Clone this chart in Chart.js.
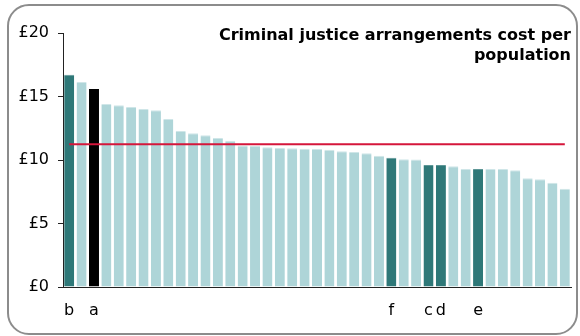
<!DOCTYPE html>
<html>
<head>
<meta charset="utf-8">
<script src="https://cdn.jsdelivr.net/npm/chart.js@4"></script>
<style>
  html, body { margin: 0; padding: 0; background: #fff; }
  #wrap { position: relative; width: 580px; height: 336px; }
  #frame { position: absolute; left: 7px; top: 4px; width: 567px; height: 327px;
           border: 2px solid #8c8c8c; border-radius: 22px; pointer-events: none; }
  canvas { position: absolute; left: 0; top: 0; }
</style>
</head>
<body>
<div id="wrap">
  <canvas id="c" width="580" height="336"></canvas>
  <div id="frame"></div>
</div>
<script>
// Categories (labels only shown for highlighted authorities)
const categories = ['b','','a','','','','','','','','','','','','','','','','','','',
                    '','','','','','f','','','c','d','','','e','','','','','','',''];
// Cost per population (£)
const costValues = [16.72,16.14,15.59,14.41,14.31,14.17,14.02,13.91,13.23,12.28,
                    12.10,11.94,11.73,11.52,11.15,11.10,11.00,10.94,10.92,10.89,
                    10.87,10.81,10.68,10.63,10.53,10.34,10.18,10.05,10.03,9.61,
                    9.61,9.50,9.29,9.29,9.29,9.29,9.19,8.56,8.48,8.21,7.74];
// Average line value
const averageValue = 11.24;
// Highlight group per bar: 'dark' = highlighted, 'black' = subject, 'light' = others
const barGroup = ['dark','light','black','light','light','light','light','light','light','light',
                  'light','light','light','light','light','light','light','light','light','light',
                  'light','light','light','light','light','light','dark','light','light','dark',
                  'dark','light','light','dark','light','light','light','light','light','light','light'];
const yTicks = [0, 5, 10, 15, 20];
const titleLines = ['Criminal justice arrangements cost per', 'population'];

const fillFor = {light: '#aed5d8', dark: '#2e7878', black: '#000000'};
const edgeFor = {light: '#cfe6e8', dark: '#5e9797', black: '#000000'};
const FAM = '"DejaVu Sans", sans-serif';

new Chart(document.getElementById('c'), {
  data: {
    labels: categories,
    datasets: [
      {
        type: 'line',
        data: categories.map(() => averageValue),
        borderColor: '#d5163b',
        borderWidth: 2,
        pointRadius: 0,
        fill: false,
        order: 0
      },
      {
        type: 'bar',
        data: costValues,
        backgroundColor: barGroup.map(g => fillFor[g]),
        borderColor: barGroup.map(g => edgeFor[g]),
        borderWidth: {top: 1, left: 0, right: 0, bottom: 0},
        borderSkipped: false,
        barPercentage: 0.81,
        categoryPercentage: 1,
        order: 1
      }
    ]
  },
  options: {
    responsive: false,
    animation: false,
    devicePixelRatio: 1,
    layout: { padding: { left: 0, right: 9, top: 0, bottom: 0 } },
    plugins: {
      legend: { display: false },
      tooltip: { enabled: false },
      title: {
        display: true,
        text: titleLines,
        align: 'end',
        color: '#000',
        font: { family: FAM, size: 16, weight: 'bold', lineHeight: 1.25 },
        padding: { top: 26, bottom: -33 }
      }
    },
    scales: {
      x: {
        grid: { display: false, drawTicks: false },
        border: { display: true, color: '#222', width: 1 },
        ticks: {
          autoSkip: false, maxRotation: 0, minRotation: 0, padding: 14,
          color: '#000',
          font: { family: FAM, size: 16 }
        },
        afterFit: s => { s.height = 49; }
      },
      y: {
        min: 0, max: 20,
        afterBuildTicks: s => { s.ticks = yTicks.map(v => ({value: v})); },
        grid: { drawOnChartArea: false, drawTicks: true, tickLength: 5, color: '#222' },
        border: { display: true, color: '#222', width: 1 },
        ticks: {
          padding: 9,
          color: '#000',
          font: { family: FAM, size: 16 },
          callback: v => '£' + v
        },
        afterFit: s => { s.width = 63; }
      }
    }
  }
});
</script>
</body>
</html>
